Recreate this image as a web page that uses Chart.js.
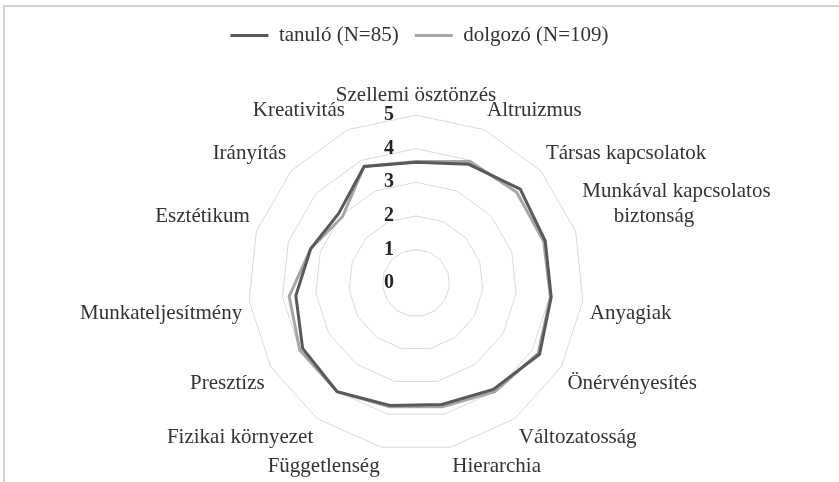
<!DOCTYPE html>
<html>
<head>
<meta charset="utf-8">
<script src="https://cdn.jsdelivr.net/npm/chart.js@4/dist/chart.umd.min.js"></script>
<style>
  html, body { margin: 0; padding: 0; background: #fff; }
  #wrap { position: relative; width: 839px; height: 482px; }
  #frame { position: absolute; left: 3px; top: 5px; right: 0; bottom: 0;
           border-top: 2px solid #d4d4d4; border-left: 2px solid #d4d4d4; }
  canvas { position: absolute; left: 0; top: 0; }
</style>
</head>
<body>
<div id="wrap">
  <div id="frame"></div>
  <canvas id="myChart" width="839" height="482"></canvas>
</div>
<script>
// Munkaérték-dimenziók, átlagok 0-5 skálán
var categories = [
    'Szellemi ösztönzés', 'Altruizmus', 'Társas kapcsolatok',
    ['Munkával kapcsolatos', '      biztonság'], 'Anyagiak', 'Önérvényesítés',
    'Változatosság', 'Hierarchia', 'Függetlenség', 'Fizikai környezet',
    'Presztízs', 'Munkateljesítmény', 'Esztétikum', 'Irányítás', 'Kreativitás'
];
var tanulo  = [3.6, 3.87, 4.18, 4.05, 4.05, 4.25, 3.92, 3.7, 3.73, 4.0, 3.9, 3.6, 3.3, 3.1, 3.8];
var dolgozo = [3.62, 3.96, 4.04, 4.0, 4.03, 4.2, 4.0, 3.77, 3.77, 4.0, 4.0, 3.8, 3.3, 2.95, 3.8];
var tickValues = [0, 1, 2, 3, 4, 5];

var serif = '"Liberation Serif", "Times New Roman", serif';

// tengelyfeliratok a középvonaltól balra, félkövéren
var tickLabelsPlugin = {
    id: 'tickLabels',
    afterDatasetsDraw: function(chart) {
        var scale = chart.scales.r;
        var c = chart.ctx;
        c.save();
        c.font = 'bold 20px ' + serif;
        c.fillStyle = '#262626';
        c.textAlign = 'center';
        c.textBaseline = 'middle';
        tickValues.forEach(function(v) {
            var d = scale.getDistanceFromCenterForValue(v);
            c.fillText(String(v), scale.xCenter - 27, scale.yCenter - d);
        });
        c.restore();
    }
};

// több hely a jelmagyarázat alatt
var legendSpacer = {
    id: 'legendSpacer',
    beforeInit: function(chart) {
        var fit = chart.legend.fit;
        chart.legend.fit = function() {
            fit.bind(chart.legend)();
            this.height += 26;
        };
    }
};

var ctx = document.getElementById('myChart').getContext('2d');
var myChart = new Chart(ctx, {
    type: 'radar',
    data: {
        labels: categories,
        datasets: [
            {
                label: 'tanuló (N=85)',
                data: tanulo,
                borderColor: '#595959',
                backgroundColor: '#595959',
                borderWidth: 3,
                pointRadius: 0,
                fill: false
            },
            {
                label: 'dolgozó (N=109)',
                data: dolgozo,
                borderColor: '#a6a6a6',
                backgroundColor: '#a6a6a6',
                borderWidth: 3,
                pointRadius: 0,
                fill: false
            }
        ]
    },
    options: {
        responsive: false,
        animation: false,
        layout: {
            padding: { top: 9, bottom: -5, left: 40, right: 40 }
        },
        plugins: {
            legend: {
                position: 'top',
                labels: {
                    usePointStyle: true,
                    pointStyle: 'line',
                    pointStyleWidth: 38,
                    boxHeight: 3,
                    padding: 16,
                    color: '#333',
                    font: { family: serif, size: 21 }
                }
            },
            tooltip: { enabled: false }
        },
        scales: {
            r: {
                min: 0,
                max: 5,
                ticks: { stepSize: 1, display: false },
                angleLines: { display: false },
                grid: { color: '#d9d9d9', lineWidth: 1 },
                pointLabels: {
                    color: '#333',
                    padding: 7,
                    font: { family: serif, size: 21 }
                }
            }
        }
    },
    plugins: [tickLabelsPlugin, legendSpacer]
});
</script>
</body>
</html>
